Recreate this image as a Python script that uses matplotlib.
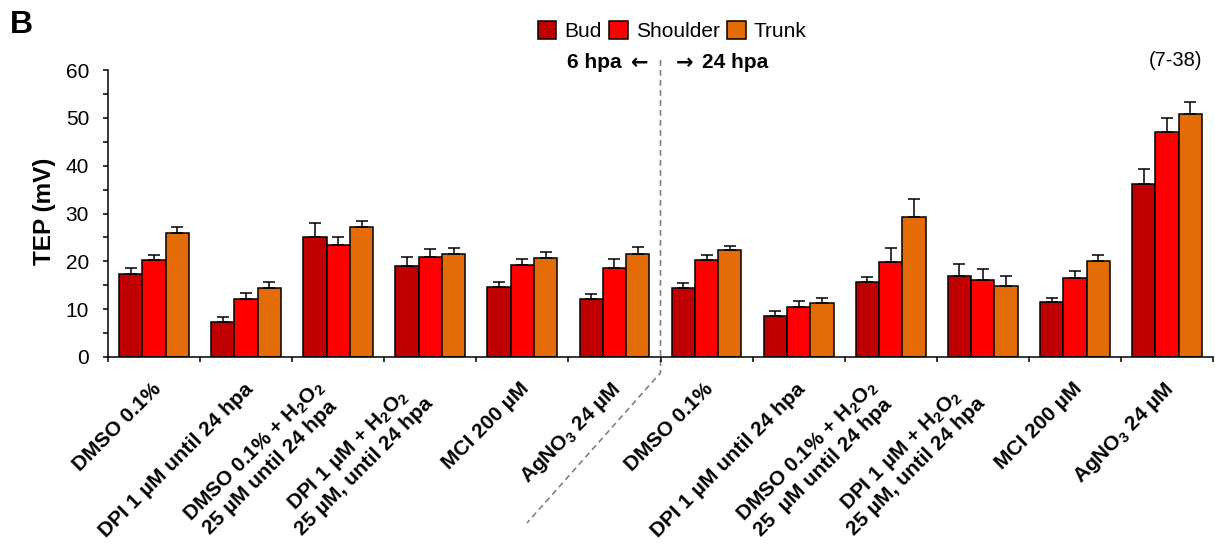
import matplotlib
matplotlib.use("Agg")
import matplotlib.pyplot as plt
import numpy as np
from matplotlib.patches import Patch

plt.rcParams['font.family'] = ['Liberation Sans', 'DejaVu Sans']
plt.rcParams['mathtext.default'] = 'regular'

# Treatments: first six at 6 hpa, last six at 24 hpa
categories = [
    "DMSO 0.1%",
    "DPI 1 µM until 24 hpa",
    "DMSO 0.1% + H$_2$O$_2$\n25 µM until 24 hpa",
    "DPI 1 µM + H$_2$O$_2$\n25 µM, until 24 hpa",
    "MCI 200 µM",
    "AgNO$_3$ 24 µM",
    "DMSO 0.1%",
    "DPI 1 µM until 24 hpa",
    "DMSO 0.1% + H$_2$O$_2$\n25  µM until 24 hpa",
    "DPI 1 µM + H$_2$O$_2$\n25 µM, until 24 hpa",
    "MCI 200 µM",
    "AgNO$_3$ 24 µM",
]

bud      = [17.4, 7.3, 25.1, 19.1, 14.7, 12.1, 14.4, 8.5, 15.6, 17.0, 11.5, 36.1]
bud_err  = [1.2, 1.1, 3.0, 1.8, 1.0, 1.0, 1.1, 1.1, 1.2, 2.5, 0.9, 3.3]
shoulder     = [20.2, 12.2, 23.4, 20.9, 19.2, 18.6, 20.2, 10.5, 19.9, 16.1, 16.6, 47.1]
shoulder_err = [1.1, 1.2, 1.6, 1.7, 1.2, 1.8, 1.2, 1.2, 2.8, 2.2, 1.4, 2.8]
trunk     = [26.0, 14.4, 27.2, 21.5, 20.6, 21.6, 22.3, 11.2, 29.2, 14.8, 20.0, 50.8]
trunk_err = [1.1, 1.3, 1.3, 1.3, 1.4, 1.4, 1.0, 1.2, 3.8, 2.1, 1.4, 2.6]

series_names = ["Bud", "Shoulder", "Trunk"]
series_colors = ["#C00000", "#FF0000", "#E36C09"]

fig = plt.figure(figsize=(12.15, 5.48), dpi=100)
ax = fig.add_axes([108 / 1215, 1 - 357 / 548, 1105 / 1215, 287 / 548])

x = np.arange(len(categories))
w = 0.253
for k, (vals, errs, col) in enumerate(zip([bud, shoulder, trunk],
                                          [bud_err, shoulder_err, trunk_err],
                                          series_colors)):
    pos = x + (k - 1) * w
    ax.bar(pos, vals, width=w, color=col, edgecolor='black', linewidth=1.1, zorder=2)
    ax.errorbar(pos, vals, yerr=[np.zeros(len(vals)), errs], fmt='none',
                ecolor='black', elinewidth=1.1, capsize=4, capthick=1.1, zorder=3)

ax.set_xlim(-0.5, len(categories) - 0.5)
ax.set_ylim(0, 60)
ax.set_yticks(np.arange(0, 61, 10))
ax.set_yticks(np.arange(5, 60, 10), minor=True)
ax.set_xticks(np.arange(-0.5, len(categories), 1.0))
ax.set_xticklabels([])
ax.tick_params(axis='y', which='both', direction='out', length=3.6, width=1.1,
               labelsize=15, pad=10)
ax.tick_params(axis='x', which='both', direction='out', length=3.6, width=1.1)
for s in ['top', 'right']:
    ax.spines[s].set_visible(False)
for s in ['left', 'bottom']:
    ax.spines[s].set_linewidth(1.1)

# rotated category labels
for i, lab in enumerate(categories):
    if "\n" in lab:
        dx, dy = -9, -35
    else:
        dx, dy = 4, -29
    ax.annotate(lab, xy=(i, 0), xycoords=('data', 'axes fraction'),
                xytext=(dx, dy), textcoords='offset pixels',
                rotation=45, rotation_mode='anchor', ha='right', va='center',
                multialignment='center', linespacing=1.1, fontsize=15,
                fontweight='bold', annotation_clip=False)

# divider between 6 hpa and 24 hpa
ax.plot([5.5, 5.5, 4.05], [62.1, -3.3, -34.7], color='#808080', lw=1.2,
        ls=(0, (3.5, 2.5)), clip_on=False, zorder=1)

fig.text(44 / 1215, 1 - 211 / 548, "TEP (mV)", rotation=90, ha='center',
         va='center', fontsize=17.5, fontweight='bold')
fig.text(10 / 1215, 1 - 33 / 548, "B", ha='left', va='baseline',
         fontsize=23, fontweight='bold')
fig.text(1202 / 1215, 1 - 60 / 548, "(7-38)", ha='right', va='center', fontsize=14.5)

# time markers on either side of the divider
ymark = 1 - 63 / 548
fig.text(622 / 1215, ymark, "6 hpa", ha='right', va='center',
         fontsize=15, fontweight='bold')
fig.text(648 / 1215, ymark, "←", ha='right', va='center', fontsize=15,
         fontweight='bold', family='DejaVu Sans')
fig.text(676 / 1215, ymark, "→", ha='left', va='center', fontsize=15,
         fontweight='bold', family='DejaVu Sans')
fig.text(702 / 1215, ymark, "24 hpa", ha='left', va='center',
         fontsize=15, fontweight='bold')

handles = [Patch(facecolor=c, edgecolor='black', linewidth=1.1) for c in series_colors]
fig.legend(handles, series_names, loc='center', bbox_to_anchor=(672 / 1215, 1 - 31 / 548),
           ncol=3, frameon=False, fontsize=15, handlelength=0.9, handleheight=0.95,
           handletextpad=0.38, columnspacing=0.35, borderpad=0, borderaxespad=0)

fig.savefig("out.png", dpi=100)
